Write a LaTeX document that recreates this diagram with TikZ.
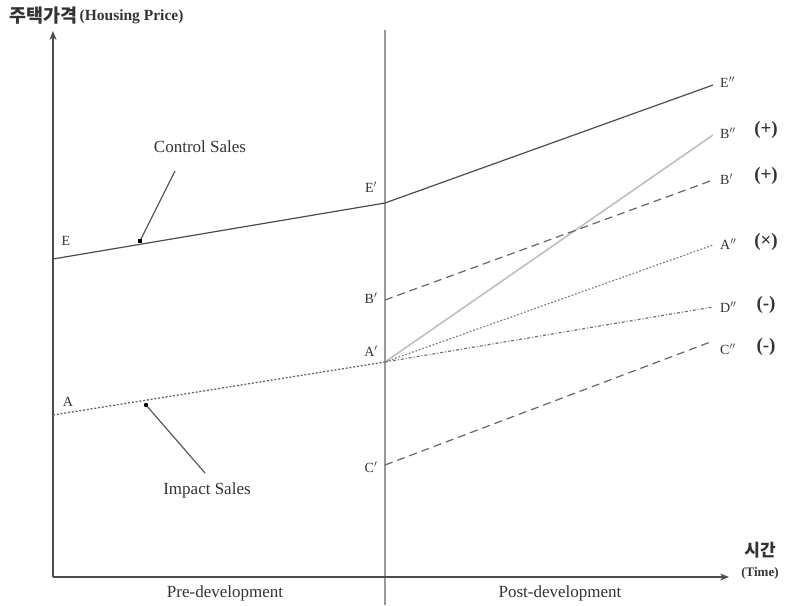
\documentclass[tikz,border=0pt]{standalone}
\usepackage{fontspec}
\setmainfont{Liberation Serif}
\newfontfamily\kr{Noto Sans CJK KR}
\usetikzlibrary{arrows.meta}
\tikzset{
  axis/.style={draw=black!70, line width=1.8pt, -{Stealth[length=9pt,width=7pt]}},
  midline/.style={draw=black!40, line width=1.8pt},
  ctrl/.style={draw=black!70, line width=1.2pt},
  impact/.style={draw=black!60, line width=1.3pt, dash pattern=on 2pt off 1.8pt},
  bline/.style={draw=black!25, line width=1.6pt},
  aline/.style={draw=black!50, line width=1.2pt, dash pattern=on 1.8pt off 1.8pt},
  dline/.style={draw=black!55, line width=1.2pt, dash pattern=on 3pt off 2pt on 1pt off 2pt},
  dashl/.style={draw=black!60, line width=1.2pt, dash pattern=on 8pt off 5pt},
  ptr/.style={draw=black!65, line width=1.2pt},
  lbl/.style={font=\fontsize{14}{16}\selectfont, text=black!80, inner sep=1pt},
  sgn/.style={font=\fontsize{19}{21}\selectfont\bfseries, text=black!80, inner sep=1pt},
  txt/.style={font=\fontsize{17}{20}\selectfont, text=black!80, inner sep=1pt},
}
\begin{document}
\begin{tikzpicture}[x=1pt,y=-1pt]
\useasboundingbox (0,0) rectangle (791,605);
% axes
\coordinate (O) at (53,577);
\coordinate (Ytop) at (53,31);
\coordinate (Xend) at (729,577);
\coordinate (Mtop) at (385,30);
\coordinate (Mbot) at (385,605);
\draw[midline] (Mtop) -- (Mbot);
\draw[axis] (O) -- (Ytop);
\draw[axis] (O) -- (Xend);
% points
\coordinate (E) at (53,259);
\coordinate (E1) at (385,203);
\coordinate (E2) at (713,85);
\coordinate (A) at (53,415);
\coordinate (A1) at (385,362);
\coordinate (B1) at (385,300);
\coordinate (C1) at (385,465);
\coordinate (B2r) at (713,135);
\coordinate (B1r) at (713,180);
\coordinate (A2r) at (713,245);
\coordinate (D2r) at (713,307);
\coordinate (C2r) at (713,341);
% lines
\draw[ctrl] (E) -- (E1) -- (E2);
\draw[impact] (A) -- (A1);
\draw[bline] (A1) -- (B2r);
\draw[aline] (A1) -- (A2r);
\draw[dline] (A1) -- (D2r);
\draw[dashl] (B1) -- (B1r);
\draw[dashl] (C1) -- (C2r);
% labels
\node[lbl] (lE) at (66,241) {E};
\node[lbl] (lA) at (68,402) {A};
\node[lbl] (lE1) at (371,187) {E$'$};
\node[lbl] (lB1) at (371,298) {B$'$};
\node[lbl] (lA1) at (371,351) {A$'$};
\node[lbl] (lC1) at (371,467) {C$'$};
\node[lbl, anchor=west] (lE2) at (719,82) {E$''$};
\node[lbl, anchor=west] (lB2) at (719,133) {B$''$};
\node[lbl, anchor=west] (lB1r) at (719,179) {B$'$};
\node[lbl, anchor=west] (lA2) at (719,244) {A$''$};
\node[lbl, anchor=west] (lD2) at (719,307) {D$''$};
\node[lbl, anchor=west] (lC2) at (719,349) {C$''$};
\node[sgn] (s1) at (766,130) {(+)};
\node[sgn] (s2) at (766,176) {(+)};
\node[sgn] (s3) at (766,242) {(×)};
\node[sgn] (s4) at (766,305) {(-)};
\node[sgn] (s5) at (766,347) {(-)};
% pointers
\node[txt] (cs) at (200,147) {Control Sales};
\node[txt] (is) at (207,490) {Impact Sales};
\coordinate (cst) at (140,241);
\coordinate (ist) at (146,405);
\coordinate (csp) at (175,171);
\coordinate (isp) at (205,473);
\draw[ptr] (csp) -- (cst);
\fill[black] (cst) ++(-2.2,-2.2) rectangle ++(4.4,4.4);
\draw[ptr] (isp) -- (ist);
\fill[black] (ist) circle (2.2);
% axis titles
\node[font=\fontsize{18.5}{20}\selectfont\kr\bfseries, text=black!80, anchor=west, inner sep=0pt] (yk) at (9,16) {주택가격};
\node[font=\fontsize{15.5}{17}\selectfont\bfseries, text=black!80, anchor=west, inner sep=0pt] (ye) at ([xshift=2pt,yshift=-1pt]yk.east) {(Housing Price)};
\node[font=\fontsize{17}{19}\selectfont\kr\bfseries, text=black!80] (xk) at (760,550) {시간};
\node[font=\fontsize{13}{15}\selectfont\bfseries, text=black!80] (xe) at (760,573) {(Time)};
\node[txt] (pre) at (225,593) {Pre-development};
\node[txt] (post) at (560,593) {Post-development};
\end{tikzpicture}
\end{document}
